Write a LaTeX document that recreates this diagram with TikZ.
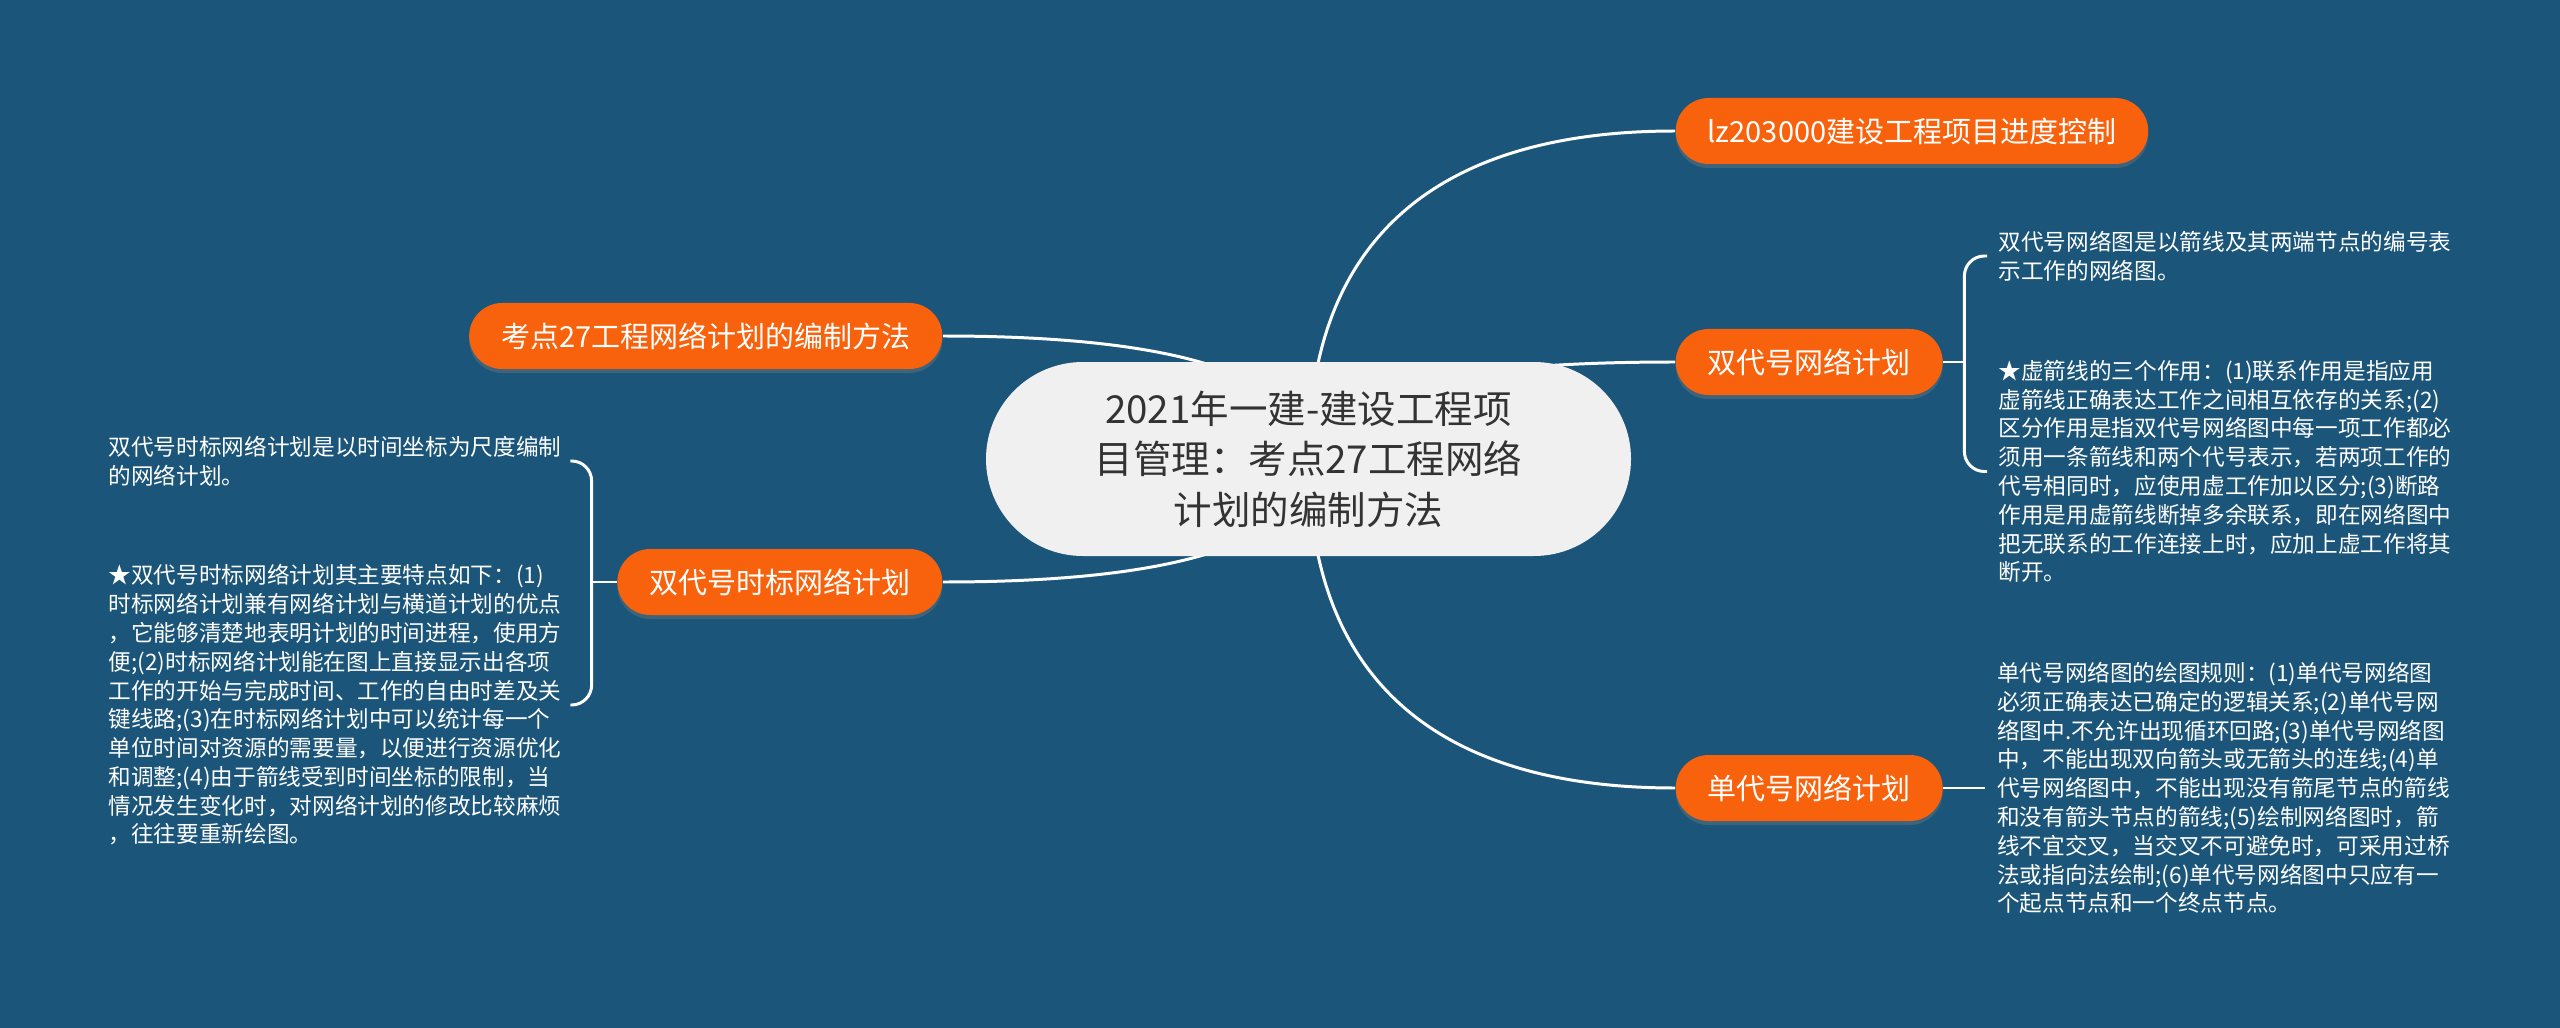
\documentclass[tikz,border=0pt]{standalone}
\usepackage{fontspec}
\setmainfont{Noto Sans CJK SC}
\usetikzlibrary{calc,%
		positioning,%
		shadows}
\definecolor{sfondo}{HTML}{1B5579}
\definecolor{arancio}{HTML}{F8620C}
\definecolor{grigio}{HTML}{F0F0F0}
\definecolor{scuro}{HTML}{333333}

\begin{document}
\begin{tikzpicture}[
  ramo/.style={fill=arancio, text=white, rounded corners=0.33cm,
    minimum height=0.66cm, inner xsep=0.32cm, inner ysep=0pt,
    font=\fontsize{8.25pt}{10pt}\selectfont,
    drop shadow={shadow xshift=0pt, shadow yshift=-0.04cm, opacity=0.35}},
  nota/.style={text=white, text width=4.5cm, align=left,
    inner xsep=0.11cm, inner ysep=0pt,
    font=\fontsize{6.44pt}{8.19pt}\selectfont},
  linea/.style={draw=white, line width=0.85pt}]
%Mappa concettuale
\fill[sfondo] (0,0) rectangle (25.6,-10.28);
\coordinate (centro) at (13.085,-4.59);
\node[ramo, anchor=west] (lz) at (16.75,-1.31) {lz203000建设工程项目进度控制};
\node[ramo, anchor=west] (dsw) at (16.75,-3.62) {双代号网络计划};
\node[ramo, anchor=west] (dan) at (16.75,-7.88) {单代号网络计划};
\node[ramo, anchor=east] (kd) at (9.43,-3.36) {考点27工程网络计划的编制方法};
\node[ramo, anchor=east] (sbw) at (9.43,-5.82) {双代号时标网络计划};
\node[nota, anchor=west] (r1) at (19.87,-2.56) {双代号网络图是以箭线及其两端节点的编号表\\
示工作的网络图。};
\node[nota, anchor=west] (r2) at (19.87,-4.715) {★虚箭线的三个作用：(1)联系作用是指应用\\
虚箭线正确表达工作之间相互依存的关系;(2)\\
区分作用是指双代号网络图中每一项工作都必\\
须用一条箭线和两个代号表示，若两项工作的\\
代号相同时，应使用虚工作加以区分;(3)断路\\
作用是用虚箭线断掉多余联系，即在网络图中\\
把无联系的工作连接上时，应加上虚工作将其\\
断开。};
\node[nota, right=0.42cm of dan] (r3) {单代号网络图的绘图规则：(1)单代号网络图\\
必须正确表达已确定的逻辑关系;(2)单代号网\\
络图中.不允许出现循环回路;(3)单代号网络图\\
中，不能出现双向箭头或无箭头的连线;(4)单\\
代号网络图中，不能出现没有箭尾节点的箭线\\
和没有箭头节点的箭线;(5)绘制网络图时，箭\\
线不宜交叉，当交叉不可避免时，可采用过桥\\
法或指向法绘制;(6)单代号网络图中只应有一\\
个起点节点和一个终点节点。};
\node[nota, anchor=west] (l1) at (0.97,-4.61) {双代号时标网络计划是以时间坐标为尺度编制\\
的网络计划。};
\node[nota, anchor=west] (l2) at (0.97,-7.05) {★双代号时标网络计划其主要特点如下：(1)\\
时标网络计划兼有网络计划与横道计划的优点\\
，它能够清楚地表明计划的时间进程，使用方\\
便;(2)时标网络计划能在图上直接显示出各项\\
工作的开始与完成时间、工作的自由时差及关\\
键线路;(3)在时标网络计划中可以统计每一个\\
单位时间对资源的需要量，以便进行资源优化\\
和调整;(4)由于箭线受到时间坐标的限制，当\\
情况发生变化时，对网络计划的修改比较麻烦\\
，往往要重新绘图。};
\foreach \nodo/\lato in {lz/west,dsw/west,dan/west,kd/east,sbw/east}
  \draw[linea] (centro) .. controls ($(centro)!0.67!(centro |- \nodo.\lato)$)
    and ($(\nodo.\lato)!0.65!(centro |- \nodo.\lato)$) .. (\nodo.\lato);
\draw[linea] (dsw.east) -- ++(0.21,0) coordinate (gr);
\draw[linea, rounded corners=0.2cm] (r1.west) -| (gr) |- (r2.west);
\draw[linea] (dan.east) -- (r3.west);
\draw[linea] (sbw.west) -- ++(-0.25,0) coordinate (gl);
\draw[linea, rounded corners=0.2cm] (l1.east) -| (gl) |- (l2.east);
\node[fill=grigio, text=scuro, rounded corners=0.97cm, minimum width=6.45cm,
  minimum height=1.94cm, inner sep=0pt, align=center,
  font=\fontsize{10.95pt}{14.4pt}\selectfont] (radice) at (centro)
  {2021年一建-建设工程项\\目管理：考点27工程网络\\计划的编制方法};
\end{tikzpicture}
\end{document}
